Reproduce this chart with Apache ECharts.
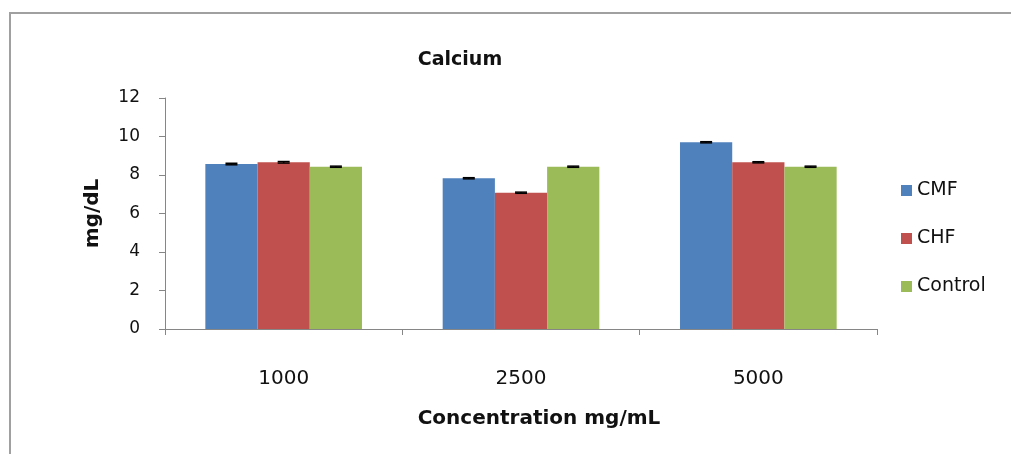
<!DOCTYPE html>
<html>
<head>
<meta charset="utf-8">
<script src="https://cdn.jsdelivr.net/npm/echarts@6/dist/echarts.min.js"></script>
<style>
html,body{margin:0;padding:0;background:#fff;}
#chart{width:1011px;height:454px;}
</style>
</head>
<body>
<div id="chart"></div>
<script>
const categories = ['1000', '2500', '5000'];
const seriesNames = ['CMF', 'CHF', 'Control'];
const cmfValues = [8.57, 7.83, 9.70];
const chfValues = [8.66, 7.08, 8.66];
const controlValues = [8.43, 8.43, 8.43];
const cmfErrors = [0.04, 0.03, 0.03];
const chfErrors = [0.04, 0.03, 0.03];
const controlErrors = [0.03, 0.03, 0.03];
const yTicks = [0, 2, 4, 6, 8, 10, 12];

const colors = ['#4F81BD', '#C0504D', '#9BBB59'];
const FONT = 'DejaVu Sans';
const allValues = [cmfValues, chfValues, controlValues];
const allErrors = [cmfErrors, chfErrors, controlErrors];

const chart = echarts.init(document.getElementById('chart'));

function errorSeries(idx) {
  const data = categories.map((c, i) => [i, allValues[idx][i], allErrors[idx][i]]);
  return {
    type: 'custom',
    name: seriesNames[idx] + ' error',
    data: data,
    z: 10,
    silent: true,
    renderItem: function (params, api) {
      const ci = api.value(0);
      const v = api.value(1);
      const e = api.value(2);
      const hi = api.coord([ci, v + e]);
      const lo = api.coord([ci, v - e]);
      const bw = api.size([1, 0])[0];
      const groupW = bw * 0.66;
      const barW = groupW / 3;
      const x = hi[0] - groupW / 2 + barW * (idx + 0.5);
      const cap = 6;
      const st = { stroke: '#000', lineWidth: 1.5 };
      return {
        type: 'group',
        children: [
          { type: 'line', shape: { x1: x, y1: hi[1], x2: x, y2: lo[1] }, style: st },
          { type: 'line', shape: { x1: x - cap, y1: hi[1], x2: x + cap, y2: hi[1] }, style: st },
          { type: 'line', shape: { x1: x - cap, y1: lo[1], x2: x + cap, y2: lo[1] }, style: st }
        ]
      };
    }
  };
}

const option = {
  animation: false,
  backgroundColor: '#ffffff',
  color: colors,
  graphic: [{
    type: 'rect',
    shape: { x: 10, y: 13, width: 1020, height: 460 },
    style: { fill: 'none', stroke: '#a0a0a0', lineWidth: 2 },
    silent: true
  }],
  title: {
    text: 'Calcium',
    left: 455,
    top: 46,
    textAlign: 'center',
    textStyle: { fontFamily: FONT, fontSize: 19, fontWeight: 'bold', color: '#111' }
  },
  legend: {
    orient: 'vertical',
    left: 896,
    top: 176,
    itemWidth: 11,
    itemHeight: 11,
    itemGap: 29,
    icon: 'rect',
    data: seriesNames,
    textStyle: { fontFamily: FONT, fontSize: 19, color: '#111', padding: [0, 0, 0, 0] }
  },
  grid: { left: 165, right: 134, top: 98, bottom: 125 },
  xAxis: {
    type: 'category',
    data: categories,
    boundaryGap: true,
    name: 'Concentration mg/mL',
    nameLocation: 'middle',
    nameGap: 80,
    nameTextStyle: { fontFamily: FONT, fontSize: 20, fontWeight: 'bold', color: '#111', padding: [0, 0, 0, 36] },
    axisLine: { lineStyle: { color: '#868686', width: 1 } },
    axisTick: { show: true, alignWithLabel: false, length: 6, lineStyle: { color: '#868686' } },
    axisLabel: { fontFamily: FONT, fontSize: 20, color: '#111', margin: 40 },
    splitLine: { show: false }
  },
  yAxis: {
    type: 'value',
    min: 0,
    max: 12,
    interval: 2,
    name: 'mg/dL',
    nameLocation: 'middle',
    nameGap: 62,
    nameRotate: 90,
    nameTextStyle: { fontFamily: FONT, fontSize: 20, fontWeight: 'bold', color: '#111' },
    axisLine: { show: true, lineStyle: { color: '#868686', width: 1 } },
    axisTick: { show: true, length: 6, lineStyle: { color: '#868686' } },
    axisLabel: { fontFamily: FONT, fontSize: 17, color: '#111', margin: 25,
      formatter: function (v) { return yTicks.indexOf(v) >= 0 ? String(v) : ''; } },
    splitLine: { show: false }
  },
  series: [
    { type: 'bar', name: 'CMF', data: cmfValues, barGap: '0%', barCategoryGap: '34%', itemStyle: { color: colors[0] } },
    { type: 'bar', name: 'CHF', data: chfValues, barGap: '0%', barCategoryGap: '34%', itemStyle: { color: colors[1] } },
    { type: 'bar', name: 'Control', data: controlValues, barGap: '0%', barCategoryGap: '34%', itemStyle: { color: colors[2] } },
    errorSeries(0), errorSeries(1), errorSeries(2)
  ]
};
chart.setOption(option);
</script>
</body>
</html>
